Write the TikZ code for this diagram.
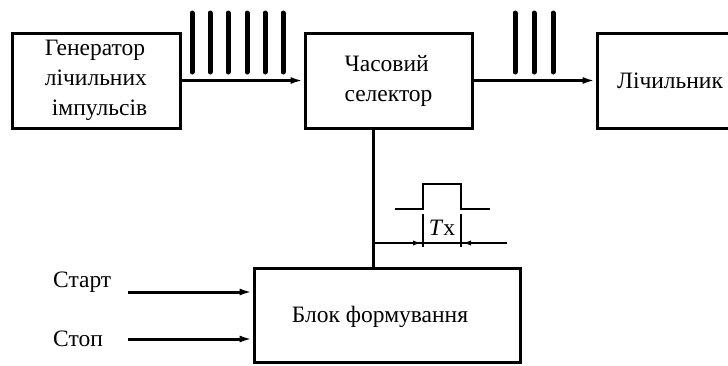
\documentclass[tikz,border=0pt]{standalone}
\usepackage{fontspec}
\setmainfont{Liberation Serif}
\usetikzlibrary{arrows.meta,calc}
\begin{document}
\begin{tikzpicture}[x=1pt,y=-1pt,
  blk/.style={draw,line width=3pt,rectangle,inner sep=0pt,align=center,font=\fontsize{23.5}{30}\selectfont},
  conn/.style={line width=3pt,-{Latex[length=13pt,width=7pt]}},
  bar/.style={line width=5pt,line cap=round},
  thin/.style={line width=1.2pt},
  dim/.style={line width=1.3pt},
  lbl/.style={font=\fontsize{23.5}{28}\selectfont,inner sep=0pt}]
\clip (0,0) rectangle (728,365);
\fill[white] (0,0) rectangle (728,365);
\node[blk,align=left,minimum width=168pt,minimum height=95pt] (gen) at (96,80.5) {Генератор\\лічильних\\\hspace{7pt}імпульсів};
\node[blk,align=left,minimum width=167pt,minimum height=95pt] (sel) at (388.5,80.5) {Часовий\\селектор};
\node[blk,minimum width=146pt,minimum height=95pt] (cnt) at (670,80.5) {Лічильник};
\node[blk,minimum width=266pt,minimum height=94pt] (frm) at (387,315) {};
\node[lbl] (frmt) at (380,317) {Блок формування};
\draw[conn] (gen.east) -- (sel.west);
\draw[conn] (sel.east) -- (cnt.west);
\foreach \x in {192,210,228,247,265,283} \draw[bar] (\x,13) -- (\x,72);
\foreach \x in {515,534,553} \draw[bar] (\x,13) -- (\x,72);
\coordinate (vx) at (373,200);
\draw[line width=3pt] (sel.south -| vx) -- (frm.north -| vx);
% pulse
\draw[line width=2.4pt] (395,209) -- (423,209) -- (423,184) -- (461,184) -- (461,209) -- (490,209);
\coordinate (dl) at (373,243);
\coordinate (dr) at (507,243);
\coordinate (ta) at (423,243);
\coordinate (tb) at (461,243);
\draw[thin] (423,214) -- (423,247);
\draw[thin] (461,214) -- (461,247);
\draw[dim] (dl) -- (dr);
\draw[line width=2pt,-{Latex[length=10pt,width=5pt]}] (400,243) -- (ta);
\draw[line width=2pt,-{Latex[length=10pt,width=5pt]}] (485,243) -- (tb);
\node[lbl] (tx) at (442,228) {\textit{T}x};
% start stop
\node[lbl,anchor=west] (st) at (53,282) {Старт};
\node[lbl,anchor=west] (sp) at (53,339) {Стоп};
\coordinate (sa) at (128,292);
\coordinate (sb) at (128,339);
\draw[conn] (sa) -- (sa -| frm.west);
\draw[conn] (sb) -- (sb -| frm.west);
\end{tikzpicture}
\end{document}
